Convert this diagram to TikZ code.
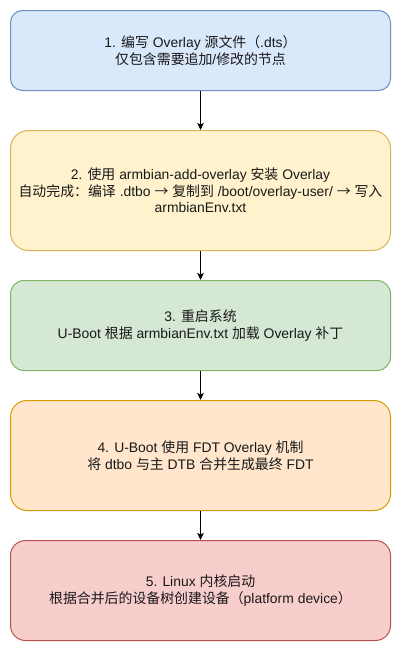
\documentclass[tikz,border=0pt]{standalone}
\usepackage{fontspec}
\setmainfont{Liberation Sans}
\newfontfamily\cjk{Noto Sans CJK SC}
\usetikzlibrary{arrows.meta}
\definecolor{bluef}{HTML}{DAE8FC}\definecolor{bluel}{HTML}{6C8EBF}
\definecolor{yelf}{HTML}{FFF2CC}\definecolor{yell}{HTML}{D6B656}
\definecolor{grnf}{HTML}{D5E8D4}\definecolor{grnl}{HTML}{82B366}
\definecolor{orgf}{HTML}{FFE6CC}\definecolor{orgl}{HTML}{D79B00}
\definecolor{redf}{HTML}{F8CECC}\definecolor{redl}{HTML}{B85450}
\begin{document}
\begin{tikzpicture}[x=1pt,y=-1pt,
  stepbox/.style={draw, line width=1pt, rectangle, minimum width=380pt, align=center,
    inner sep=0pt, font=\fontsize{13.9}{16.7}\selectfont, text=black!90},
  arr/.style={-{Stealth[length=7pt,width=6.5pt,inset=1.5pt]}, line width=1pt}]
\useasboundingbox (0,0) rectangle (402,651);
\node[stepbox, fill=bluef, draw=bluel, minimum height=80pt, rounded corners=12pt] (n1) at (200.5,50.5)
  {1. {\cjk 编写} Overlay {\cjk 源文件（}.dts{\cjk ）}\\ {\cjk 仅包含需要追加}/{\cjk 修改的节点}};
\node[stepbox, fill=yelf, draw=yell, minimum height=120pt, rounded corners=18pt] (n2) at (200.5,190.5)
  {2. {\cjk 使用} armbian-add-overlay {\cjk 安装} Overlay\\
   {\cjk 自动完成：编译} .dtbo {\cjk →} {\cjk 复制到} /boot/overlay-user/ {\cjk →} {\cjk 写入}\\
   armbianEnv.txt};
\node[stepbox, fill=grnf, draw=grnl, minimum height=90pt, rounded corners=13.5pt] (n3) at (200.5,325.5)
  {3. {\cjk 重启系统}\\ U-Boot {\cjk 根据} armbianEnv.txt {\cjk 加载} Overlay {\cjk 补丁}};
\node[stepbox, fill=orgf, draw=orgl, minimum height=110pt, rounded corners=16.5pt] (n4) at (200.5,455.5)
  {4. U-Boot {\cjk 使用} FDT Overlay {\cjk 机制}\\ {\cjk 将} dtbo {\cjk 与主} DTB {\cjk 合并生成最终} FDT};
\node[stepbox, fill=redf, draw=redl, minimum height=100pt, rounded corners=15pt] (n5) at (200.5,590.5)
  {5. Linux {\cjk 内核启动}\\ {\cjk 根据合并后的设备树创建设备（}platform device{\cjk ）}};
\draw[arr] (n1) -- (n2);
\draw[arr] (n2) -- (n3);
\draw[arr] (n3) -- (n4);
\draw[arr] (n4) -- (n5);
\end{tikzpicture}
\end{document}
